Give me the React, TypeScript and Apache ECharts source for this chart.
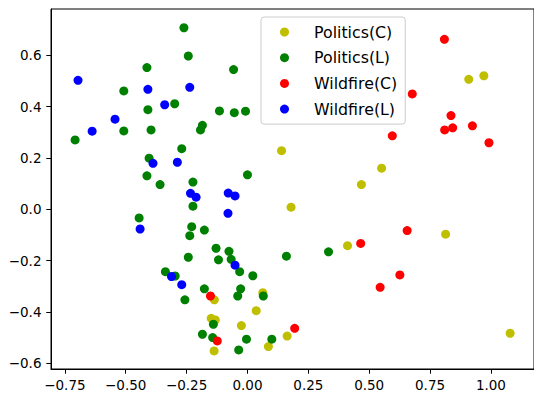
import React, { useEffect, useRef } from "react";
import * as echarts from "echarts";

const seriesNames = ["Politics(C)", "Politics(L)", "Wildfire(C)", "Wildfire(L)"];
const seriesColors = ["#bfbf00", "#008000", "#ff0000", "#0000ff"];

const politicsC: [number, number][] = [
  [0.971, 0.52], [0.909, 0.506], [0.14, 0.228], [0.551, 0.16], [0.468, 0.096],
  [0.179, 0.008], [0.814, -0.097], [0.411, -0.142], [0.063, -0.325], [-0.136, -0.353],
  [0.036, -0.395], [-0.149, -0.425], [-0.132, -0.431], [-0.025, -0.453], [0.163, -0.494],
  [1.079, -0.483], [0.086, -0.535], [-0.137, -0.552],
];

const politicsL: [number, number][] = [
  [-0.261, 0.707], [-0.243, 0.597], [-0.413, 0.552], [-0.508, 0.461], [-0.299, 0.411],
  [-0.409, 0.388], [-0.115, 0.383], [-0.185, 0.327], [-0.193, 0.309], [-0.508, 0.305],
  [-0.396, 0.309], [-0.708, 0.27], [-0.27, 0.236], [-0.404, 0.199], [-0.413, 0.13],
  [-0.359, 0.096], [-0.224, 0.106], [-0.057, 0.544], [-0.054, 0.376], [-0.008, 0.382],
  [0.0, 0.134], [-0.224, 0.012], [-0.445, -0.034], [-0.229, -0.068], [-0.237, -0.103],
  [-0.243, -0.187], [-0.337, -0.243], [-0.297, -0.26], [-0.257, -0.353], [-0.177, -0.081],
  [-0.129, -0.152], [-0.076, -0.164], [-0.119, -0.197], [-0.067, -0.195], [-0.032, -0.243],
  [0.022, -0.259], [0.16, -0.183], [0.333, -0.166], [-0.177, -0.31], [-0.028, -0.31],
  [-0.04, -0.338], [0.065, -0.338], [-0.14, -0.448], [-0.185, -0.487], [-0.143, -0.5],
  [-0.004, -0.506], [0.1, -0.506], [-0.036, -0.548],
];

const wildfireC: [number, number][] = [
  [0.809, 0.662], [0.677, 0.449], [0.836, 0.365], [0.81, 0.309], [0.843, 0.317],
  [0.924, 0.325], [0.992, 0.259], [0.595, 0.286], [0.656, -0.083], [0.465, -0.133],
  [0.626, -0.256], [0.545, -0.304], [-0.152, -0.338], [0.194, -0.464], [-0.124, -0.513],
];

const wildfireL: [number, number][] = [
  [-0.696, 0.502], [-0.409, 0.467], [-0.237, 0.475], [-0.34, 0.407], [-0.544, 0.351],
  [-0.638, 0.304], [-0.388, 0.179], [-0.288, 0.183], [-0.234, 0.062], [-0.211, 0.047],
  [-0.079, 0.063], [-0.051, 0.052], [-0.08, -0.016], [-0.441, -0.077], [-0.051, -0.218],
  [-0.312, -0.262], [-0.27, -0.294],
];

const xTicks = [-0.75, -0.5, -0.25, 0, 0.25, 0.5, 0.75, 1.0];
const yTicks = [-0.6, -0.4, -0.2, 0, 0.2, 0.4, 0.6];

const fmt = (v: number, d: number) => {
  const s = Math.abs(v).toFixed(d);
  return v < -1e-9 ? "\u2212" + s : s;
};

export default function App() {
  const ref = useRef<HTMLDivElement>(null);
  useEffect(() => {
    if (!ref.current) return;
    const chart = echarts.init(ref.current, undefined, { renderer: "svg" });
    const allData = [politicsC, politicsL, wildfireC, wildfireL];
    chart.setOption({
      animation: false,
      backgroundColor: "#ffffff",
      textStyle: { fontFamily: "DejaVu Sans" },
      grid: {
        left: 51,
        right: -2,
        top: 9,
        bottom: 25,
        show: true,
        borderColor: "#000000",
        borderWidth: 1,
        backgroundColor: "transparent",
      },
      legend: {
        orient: "vertical",
        left: 261,
        top: 17,
        padding: [6, 8, 6, 19],
        itemWidth: 9,
        itemHeight: 9,
        itemGap: 7.7,
        icon: "circle",
        backgroundColor: "rgba(255,255,255,0.8)",
        borderColor: "#cccccc",
        borderWidth: 1,
        borderRadius: 3,
        textStyle: {
          fontFamily: "DejaVu Sans",
          fontSize: 15.8,
          lineHeight: 18,
          color: "#000000",
          padding: [0, 0, 0, 20],
        },
        data: seriesNames,
      },
      xAxis: {
        type: "value",
        min: -0.807,
        max: 1.177,
        axisLine: { show: true, onZero: false, lineStyle: { color: "#000", width: 1 } },
        axisTick: { show: true, length: 4.7, lineStyle: { color: "#000", width: 1 }, customValues: xTicks },
        axisLabel: {
          margin: 9,
          fontSize: 13.5,
          color: "#000",
          fontFamily: "DejaVu Sans",
          customValues: xTicks,
          formatter: (v: number) => fmt(v, 2),
        },
        splitLine: { show: false },
      },
      yAxis: {
        type: "value",
        min: -0.6223,
        max: 0.78,
        axisLine: { show: true, onZero: false, lineStyle: { color: "#000", width: 1 } },
        axisTick: { show: true, length: 4.7, lineStyle: { color: "#000", width: 1 }, customValues: yTicks },
        axisLabel: {
          margin: 9.5,
          fontSize: 13.5,
          color: "#000",
          fontFamily: "DejaVu Sans",
          customValues: yTicks,
          formatter: (v: number) => fmt(v, 1),
        },
        splitLine: { show: false },
      },
      series: seriesNames.map((name, i) => ({
        name,
        type: "scatter",
        symbol: "circle",
        symbolSize: 9,
        itemStyle: { color: seriesColors[i], opacity: 1 },
        data: allData[i],
      })),
    });
    return () => chart.dispose();
  }, []);
  return (
    <div style={{ position: "fixed", left: 0, top: 0, width: 534, height: 394, overflow: "hidden", background: "#fff" }}>
      <div ref={ref} style={{ width: 534, height: 394 }} />
    </div>
  );
}
